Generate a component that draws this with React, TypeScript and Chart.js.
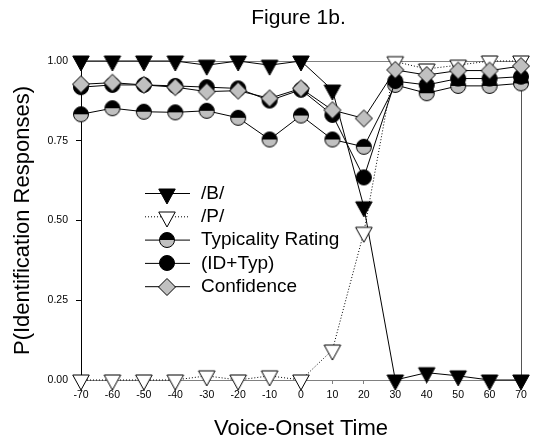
import React, { useEffect, useRef } from "react";
import { Chart, registerables } from "chart.js";

Chart.register(...registerables);

// ---- data ----
const vot = [-70, -60, -50, -40, -30, -20, -10, 0, 10, 20, 30, 40, 50, 60, 70];
const bResp = [1.0, 1.0, 1.0, 1.0, 0.987, 1.0, 0.987, 1.0, 0.909, 0.543, 0.0, 0.023, 0.013, 0.0, 0.0];
const pResp = [0.0, 0.0, 0.0, 0.0, 0.013, 0.0, 0.013, 0.0, 0.094, 0.463, 0.998, 0.975, 0.987, 1.0, 1.0];
const typicality = [0.833, 0.852, 0.841, 0.839, 0.844, 0.822, 0.754, 0.829, 0.754, 0.731, 0.925, 0.899, 0.922, 0.922, 0.93];
const idTyp = [0.918, 0.925, 0.925, 0.922, 0.918, 0.914, 0.876, 0.91, 0.831, 0.635, 0.937, 0.925, 0.945, 0.945, 0.951];
const confidence = [0.927, 0.932, 0.925, 0.918, 0.904, 0.907, 0.883, 0.914, 0.846, 0.82, 0.972, 0.956, 0.97, 0.97, 0.984];
const yTicks = [0, 0.25, 0.5, 0.75, 1.0];
const xTicks = [-70, -60, -50, -40, -30, -20, -10, 0, 10, 20, 30, 40, 50, 60, 70];
const legendLabels = ["/B/", "/P/", "Typicality Rating", "(ID+Typ)", "Confidence"];
const chartTitle = "Figure 1b.";
const xTitle = "Voice-Onset Time";
const yTitle = "P(Identification Responses)";

const FONT = "'Liberation Sans', Arial, Helvetica, sans-serif";
const GRAY = "#c0c0c0";

function makeMarker(draw: (ctx: CanvasRenderingContext2D) => void): HTMLCanvasElement {
  const size = 40;
  const c = document.createElement("canvas");
  c.width = size;
  c.height = size;
  const ctx = c.getContext("2d")!;
  ctx.translate(size / 2, size / 2);
  ctx.lineWidth = 1;
  ctx.strokeStyle = "#000";
  draw(ctx);
  return c;
}

function triangleMarker(fill: string) {
  return makeMarker((ctx) => {
    const w = 16.5, h = 15;
    ctx.beginPath();
    ctx.moveTo(-w / 2, -h / 3);
    ctx.lineTo(w / 2, -h / 3);
    ctx.lineTo(0, (2 * h) / 3);
    ctx.closePath();
    ctx.fillStyle = fill;
    ctx.fill();
    ctx.stroke();
  });
}

function halfCircleMarker() {
  return makeMarker((ctx) => {
    const r = 7.5;
    ctx.beginPath();
    ctx.arc(0, 0, r, Math.PI, 0);
    ctx.closePath();
    ctx.fillStyle = "#000";
    ctx.fill();
    ctx.beginPath();
    ctx.arc(0, 0, r, 0, Math.PI);
    ctx.closePath();
    ctx.fillStyle = GRAY;
    ctx.fill();
    ctx.beginPath();
    ctx.arc(0, 0, r, 0, Math.PI * 2);
    ctx.stroke();
  });
}

function circleMarker() {
  return makeMarker((ctx) => {
    ctx.beginPath();
    ctx.arc(0, 0, 7.5, 0, Math.PI * 2);
    ctx.fillStyle = "#000";
    ctx.fill();
    ctx.stroke();
  });
}

function diamondMarker() {
  return makeMarker((ctx) => {
    const d = 8.5;
    ctx.beginPath();
    ctx.moveTo(0, -d);
    ctx.lineTo(d, 0);
    ctx.lineTo(0, d);
    ctx.lineTo(-d, 0);
    ctx.closePath();
    ctx.fillStyle = GRAY;
    ctx.fill();
    ctx.stroke();
  });
}

export default function App() {
  const ref = useRef<HTMLCanvasElement>(null);

  useEffect(() => {
    const markers = [
      triangleMarker("#000"),
      triangleMarker("#fff"),
      halfCircleMarker(),
      circleMarker(),
      diamondMarker(),
    ];
    const dashes: number[][] = [[], [1, 2], [], [], []];
    const series = [bResp, pResp, typicality, idTyp, confidence];
    const orders = [4, 3, 2, 1, 0];

    const datasets = series.map((vals, i) => ({
      label: legendLabels[i],
      data: vals.map((v, j) => ({ x: vot[j], y: v })),
      borderColor: "#000",
      borderWidth: 1,
      borderDash: dashes[i],
      pointStyle: markers[i],
      pointRadius: 8,
      pointHoverRadius: 8,
      fill: false,
      tension: 0,
      clip: false as any,
      order: orders[i],
    }));

    const framePlugin = {
      id: "frame",
      beforeDatasetsDraw(chart: any) {
        const { ctx, chartArea: a } = chart;
        ctx.save();
        ctx.lineWidth = 1;
        ctx.strokeStyle = "#808080";
        ctx.beginPath();
        ctx.moveTo(a.left, a.top + 0.5);
        ctx.lineTo(a.right, a.top + 0.5);
        ctx.stroke();
        ctx.strokeStyle = "#555";
        ctx.beginPath();
        ctx.moveTo(a.right + 0.5, a.top);
        ctx.lineTo(a.right + 0.5, a.bottom);
        ctx.stroke();
        ctx.restore();
      },
    };

    const textPlugin = {
      id: "texts",
      afterDraw(chart: any) {
        const { ctx } = chart;
        ctx.save();
        // title
        ctx.fillStyle = "#000";
        ctx.font = `21px ${FONT}`;
        ctx.textAlign = "center";
        ctx.textBaseline = "middle";
        ctx.fillText(chartTitle, 298.5, 18);
        // legend
        const x0 = 145, x1 = 190, mx = 167, tx = 201;
        legendLabels.forEach((lab, i) => {
          const y = 193.5 + 23.3 * i;
          ctx.strokeStyle = "#000";
          ctx.lineWidth = 1;
          ctx.setLineDash(dashes[i]);
          ctx.beginPath();
          ctx.moveTo(x0, y);
          ctx.lineTo(x1, y);
          ctx.stroke();
          ctx.setLineDash([]);
          const m = markers[i];
          ctx.drawImage(m, Math.round(mx - m.width / 2), Math.round(y - m.height / 2));
          ctx.fillStyle = "#000";
          ctx.font = `19px ${FONT}`;
          ctx.textAlign = "left";
          ctx.textBaseline = "middle";
          ctx.fillText(lab, tx, y);
        });
        ctx.restore();
      },
    };

    const chart = new Chart(ref.current!, {
      type: "line",
      data: { datasets: datasets as any },
      options: {
        animation: false,
        responsive: false,
        devicePixelRatio: 1,
        layout: { padding: { top: 61, right: 12, left: 0, bottom: 0 } },
        plugins: {
          legend: { display: false },
          tooltip: { enabled: false },
          title: { display: false },
        },
        scales: {
          x: {
            type: "linear",
            min: -70,
            max: 70,
            afterFit: (s: any) => {
              s.height = 62;
            },
            afterBuildTicks: (s: any) => {
              s.ticks = xTicks.map((v) => ({ value: v }));
            },
            ticks: {
              autoSkip: false,
              maxRotation: 0,
              padding: 5,
              color: "#000",
              font: { family: FONT, size: 10.5 },
              callback: (v: any) => String(v),
            },
            grid: { drawOnChartArea: false, drawTicks: true, tickLength: 4, tickColor: "#808080" },
            border: { display: true, color: "#808080", width: 1 },
            title: {
              display: true,
              text: xTitle,
              color: "#000",
              font: { family: FONT, size: 22 },
              padding: { top: 3, bottom: 0 },
            },
          },
          y: {
            type: "linear",
            min: 0,
            max: 1,
            afterFit: (s: any) => {
              s.width = 81;
            },
            afterBuildTicks: (s: any) => {
              s.ticks = yTicks.map((v) => ({ value: v }));
            },
            ticks: {
              padding: 8,
              color: "#000",
              font: { family: FONT, size: 10.5 },
              callback: (v: any) => Number(v).toFixed(2),
            },
            grid: { drawOnChartArea: false, drawTicks: true, tickLength: 5, tickColor: "#000" },
            border: { display: true, color: "#000", width: 1 },
            title: {
              display: true,
              text: yTitle,
              color: "#000",
              font: { family: FONT, size: 22 },
              padding: { top: 10, bottom: 0 },
            },
          },
        },
      },
      plugins: [framePlugin, textPlugin],
    });
    return () => chart.destroy();
  }, []);

  return (
    <div style={{ position: "fixed", left: 0, top: 0, width: 533, height: 442, background: "#fff" }}>
      <canvas ref={ref} width={533} height={442} style={{ display: "block", width: 533, height: 442 }} />
    </div>
  );
}
